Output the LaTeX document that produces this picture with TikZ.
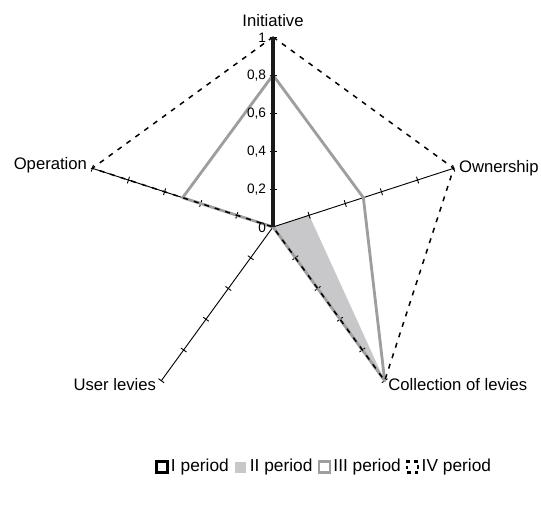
\documentclass[tikz,border=0pt]{standalone}
\usepackage{fontspec}
\setmainfont{Liberation Sans}
\usepackage{tikz}
\usetikzlibrary{positioning}
\definecolor{seriesgray}{RGB}{158,158,158}
\definecolor{fillgray}{RGB}{200,200,202}
\definecolor{darkline}{RGB}{25,25,25}

\begin{document}
\begin{tikzpicture}[x=0.6pt, y=0.6pt,
        axisline/.style={line width=0.55pt, black},
        axislabel/.style={font=\fontsize{10}{11}\selectfont, inner sep=1pt},
        ticklabel/.style={font=\fontsize{8.2}{9}\selectfont, anchor=east, inner sep=1pt},
        periodone/.style={line width=2.3pt, darkline},
        periodtwo/.style={fill=fillgray, draw=none},
        periodthree/.style={line width=1.7pt, seriesgray, line join=round},
        periodfour/.style={line width=0.9pt, black, dash pattern=on 3pt off 3.6pt},
        legendbox/.style={minimum size=6.6pt, inner sep=0pt, line width=1.4pt},
        legendtext/.style={font=\fontsize{10.4}{12}\selectfont, inner sep=0pt, right=1.2pt}]
    \useasboundingbox (-273,-279) rectangle (268,227);
    \coordinate (c) at (0,0);
    \foreach \ang/\nm in {90/ini, 18/own, -54/col, -126/usr, 162/ope}
        \coordinate (\nm) at (\ang:190);

    % II period
    \fill[periodtwo] (c) -- (18:38) coordinate (own2) -- (col) -- cycle;

    % axes with ticks
    \foreach \ang/\nm in {90/ini, 18/own, -54/col, -126/usr, 162/ope} {
        \draw[axisline] (c) -- (\nm);
        \foreach \r in {38,76,...,190}
            \draw[axisline] (\ang:\r) ++(\ang+90:3.5) -- ++(\ang-90:7);
    }

    % III period
    \coordinate (ini3) at (90:152);
    \coordinate (own3) at (18:95);
    \coordinate (ope3) at (162:95);
    \draw[periodthree] (ini3) -- (own3) -- (col) -- (c) -- (ope3) -- cycle;

    % IV period
    \draw[periodfour] (ini) -- (own) -- (col) -- (c) -- (ope) -- cycle;

    % I period
    \draw[periodone] (c) -- (ini);

    % scale on the first axis
    \foreach \r/\lab in {0/0, 38/{0,2}, 76/{0,4}, 114/{0,6}, 152/{0,8}, 190/1}
        \node[ticklabel] (tick\r) at (-5,\r-1) {\lab};

    % axis names
    \node[axislabel, anchor=south] (lini) at ([yshift=5]ini) {Initiative};
    \node[axislabel, anchor=west] (lown) at ([xshift=2]own) {Ownership};
    \node[axislabel, anchor=west] (lcol) at ([xshift=1,yshift=-2]col) {Collection of levies};
    \node[axislabel, anchor=east] (lusr) at ([xshift=-2,yshift=-2]usr) {User levies};
    \node[axislabel, anchor=east] (lope) at ([xshift=-2,yshift=2]ope) {Operation};

    % legend
    \node[legendbox, draw=black] (box1) at (-111,-240) {};
    \node[legendtext] (leg1) at (box1.east) {I period};
    \node[legendbox, fill=fillgray, right=3pt of leg1] (box2) {};
    \node[legendtext] (leg2) at (box2.east) {II period};
    \node[legendbox, draw=seriesgray, right=3pt of leg2] (box3) {};
    \node[legendtext] (leg3) at (box3.east) {III period};
    \node[legendbox, draw=black, line width=1.3pt, dash pattern=on 2pt off 2.5pt, right=3pt of leg3] (box4) {};
    \node[legendtext] (leg4) at (box4.east) {IV period};
\end{tikzpicture}
\end{document}
